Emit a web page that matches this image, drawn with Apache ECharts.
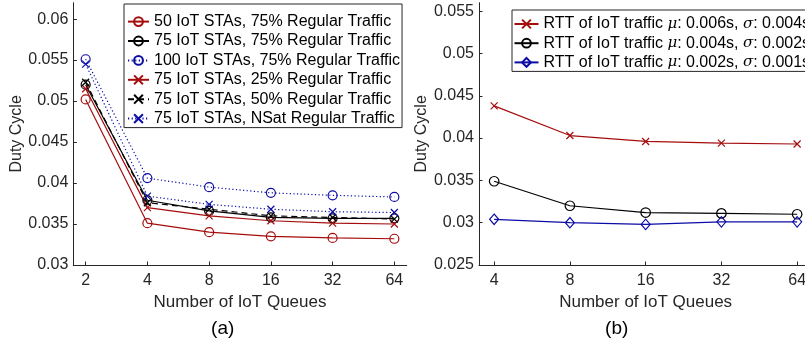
<!DOCTYPE html>
<html>
<head>
<meta charset="utf-8">
<script src="https://cdn.jsdelivr.net/npm/echarts@6/dist/echarts.min.js"></script>
<style>
  html, body { margin: 0; padding: 0; background: #fff; }
  #chart { width: 805px; height: 347px; }
</style>
</head>
<body>
<div id="chart"></div>
<script>
// Number of IoT queues on each panel's x axis
const queuesA = [2, 4, 8, 16, 32, 64];
const queuesB = [4, 8, 16, 32, 64];

// Panel (a): duty cycle per station count / regular-traffic share
const sta50Reg75 = [0.0502, 0.0351, 0.0340, 0.0335, 0.0333, 0.0332];
const sta75Reg75 = [0.0520, 0.0379, 0.0366, 0.0358, 0.0357, 0.0357];
const sta100Reg75 = [0.0551, 0.0406, 0.0395, 0.0388, 0.0385, 0.0383];
const sta75Reg25 = [0.0515, 0.0370, 0.0360, 0.0354, 0.0351, 0.0350];
const sta75Reg50 = [0.0523, 0.0376, 0.0368, 0.0360, 0.0358, 0.0356];
const sta75NSat = [0.0545, 0.0384, 0.0374, 0.0368, 0.0365, 0.0364];

// Panel (b): duty cycle per RTT distribution of IoT traffic
const rtt006 = [0.0438, 0.0403, 0.0396, 0.0394, 0.0393];
const rtt004 = [0.0349, 0.0320, 0.0312, 0.0311, 0.0310];
const rtt002 = [0.0304, 0.0300, 0.0298, 0.0301, 0.0301];

// Tick values
const yTicksA = [0.03, 0.035, 0.04, 0.045, 0.05, 0.055, 0.06];
const yTicksB = [0.025, 0.03, 0.035, 0.04, 0.045, 0.05, 0.055];

const namesA = [
  '50 IoT STAs, 75% Regular Traffic',
  '75 IoT STAs, 75% Regular Traffic',
  '100 IoT STAs, 75% Regular Traffic',
  '75 IoT STAs, 25% Regular Traffic',
  '75 IoT STAs, 50% Regular Traffic',
  '75 IoT STAs, NSat Regular Traffic'
];
const namesB = [
  'RTT of IoT traffic μ: 0.006s, σ: 0.004s',
  'RTT of IoT traffic μ: 0.004s, σ: 0.002s',
  'RTT of IoT traffic μ: 0.002s, σ: 0.001s'
];

const RED = '#a50d0d';
const BLACK = '#000000';
const BLUE = '#0c0ca6';
const AXIS = '#262626';
const FONT = '"Liberation Sans", Arial, sans-serif';
const CROSS = 'path://M0 0L10 10M10 0L0 10';

function pairs(xs, ys) {
  return xs.map((x, i) => [x, ys[i]]);
}

function lineSeries(name, xs, ys, idx, color, symbol, size, dash) {
  return {
    type: 'line',
    name: name,
    xAxisIndex: idx,
    yAxisIndex: idx,
    data: pairs(xs, ys),
    symbol: symbol,
    symbolSize: size,
    showAllSymbol: true,
    lineStyle: { color: color, width: 1.2, type: dash },
    itemStyle: { color: 'transparent', borderColor: color, borderWidth: 1.2 },
    emphasis: { disabled: true },
    silent: true,
    z: 3
  };
}

function xAxis(idx, min, max, ticks) {
  return {
    type: 'log',
    logBase: 2,
    gridIndex: idx,
    min: min,
    max: max,
    name: 'Number of IoT Queues',
    nameLocation: 'middle',
    nameGap: 27,
    nameTextStyle: { fontFamily: FONT, fontSize: 17, color: AXIS },
    axisLine: { show: true, lineStyle: { color: AXIS, width: 1 } },
    axisTick: { show: true, inside: true, length: 3.5, customValues: ticks, lineStyle: { color: AXIS, width: 1 } },
    axisLabel: { customValues: ticks, margin: 8, fontFamily: FONT, fontSize: 16, color: AXIS,
      formatter: v => String(Math.round(v)) },
    splitLine: { show: false }
  };
}

function yAxis(idx, min, max, ticks) {
  return {
    type: 'value',
    gridIndex: idx,
    min: min,
    max: max,
    name: 'Duty Cycle',
    nameLocation: 'middle',
    nameGap: 46,
    nameTextStyle: { fontFamily: FONT, fontSize: 16, color: AXIS },
    axisLine: { show: true, lineStyle: { color: AXIS, width: 1 } },
    axisTick: { show: true, inside: true, length: 3.5, customValues: ticks, lineStyle: { color: AXIS, width: 1 } },
    axisLabel: { customValues: ticks, margin: 5, fontFamily: FONT, fontSize: 16, color: AXIS,
      formatter: v => String(+v.toFixed(4)) },
    splitLine: { show: false }
  };
}

const legendText = { fontFamily: FONT, fontSize: 16, color: '#000', lineHeight: 16,
  rich: { m: { fontFamily: '"DejaVu Serif", serif', fontStyle: 'italic', fontSize: 15, lineHeight: 16, color: '#000' } } };

const option = {
  animation: false,
  backgroundColor: '#ffffff',
  grid: [
    { left: 73.3, top: 2.7, width: 333.4, height: 262.3, containLabel: false, outerBoundsMode: 'none' },
    { left: 479, top: 2.7, width: 333.3, height: 262.3, containLabel: false, outerBoundsMode: 'none' }
  ],
  xAxis: [
    xAxis(0, Math.pow(2, 0.8), Math.pow(2, 6.2), queuesA),
    xAxis(1, Math.pow(2, 1.8), Math.pow(2, 6.2), queuesB)
  ],
  yAxis: [
    yAxis(0, 0.03, 0.062, yTicksA),
    yAxis(1, 0.025, 0.056, yTicksB)
  ],
  legend: [
    {
      data: namesA,
      orient: 'vertical',
      left: 124,
      top: 4,
      padding: [9.6, 2, 1, 3],
      itemGap: 3.4,
      itemWidth: 21,
      itemHeight: 11,
      selectedMode: false,
      backgroundColor: '#fff',
      borderColor: AXIS,
      borderWidth: 1,
      textStyle: legendText
    },
    {
      data: namesB,
      orient: 'vertical',
      left: 512,
      top: 10,
      padding: [6, 6, 1, 1.5],
      itemGap: 3.2,
      itemWidth: 24,
      itemHeight: 11,
      selectedMode: false,
      backgroundColor: '#fff',
      borderColor: AXIS,
      borderWidth: 1,
      textStyle: legendText,
      formatter: name => name.replace(/([μσ])/g, '{m|$1}')
    }
  ],
  graphic: [
    { type: 'text', x: 222.7, y: 328.5, style: { text: '(a)', font: '19px ' + FONT, fill: '#000', textAlign: 'center', textVerticalAlign: 'middle' } },
    { type: 'text', x: 616.7, y: 328.5, style: { text: '(b)', font: '19px ' + FONT, fill: '#000', textAlign: 'center', textVerticalAlign: 'middle' } }
  ],
  series: [
    lineSeries(namesA[0], queuesA, sta50Reg75, 0, RED, 'circle', 9, 'solid'),
    lineSeries(namesA[1], queuesA, sta75Reg75, 0, BLACK, 'circle', 9, 'solid'),
    lineSeries(namesA[2], queuesA, sta100Reg75, 0, BLUE, 'circle', 9, [1.2, 2.4]),
    lineSeries(namesA[3], queuesA, sta75Reg25, 0, RED, CROSS, 7, 'solid'),
    lineSeries(namesA[4], queuesA, sta75Reg50, 0, BLACK, CROSS, 7, [6, 4]),
    lineSeries(namesA[5], queuesA, sta75NSat, 0, BLUE, CROSS, 7, [1.2, 2.4]),
    lineSeries(namesB[0], queuesB, rtt006, 1, RED, CROSS, 7, 'solid'),
    lineSeries(namesB[1], queuesB, rtt004, 1, BLACK, 'circle', 9.5, 'solid'),
    lineSeries(namesB[2], queuesB, rtt002, 1, BLUE, 'diamond', [9, 10.5], 'solid')
  ]
};

const chart = echarts.init(document.getElementById('chart'), null, { renderer: 'canvas' });
chart.setOption(option);
</script>
</body>
</html>
